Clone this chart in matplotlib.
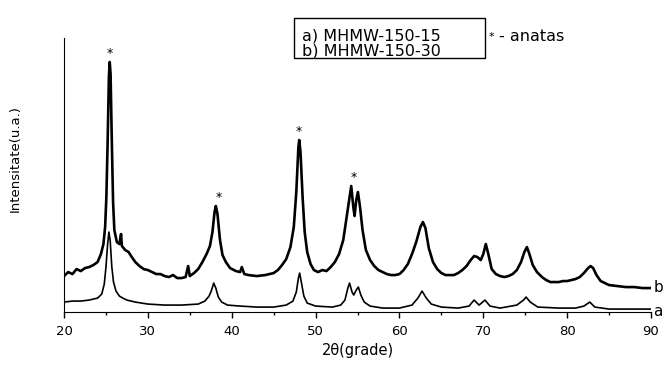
import matplotlib
matplotlib.use("Agg")
import matplotlib.pyplot as plt
from matplotlib.patches import Rectangle

# difractograme: 2theta (grade) si intensitate (u.a.)
two_theta_b = [20.0, 20.5, 21.0, 21.5, 22.0, 22.5, 23.0, 23.5, 24.0, 24.4, 24.7, 24.9,
               25.05, 25.2, 25.35, 25.45, 25.55, 25.7, 25.85, 26.0, 26.3, 26.6, 26.8, 26.9,
               27.3, 27.7, 28.0, 28.5, 29.0, 29.5, 30.0, 30.5, 31.0, 31.5, 32.0, 32.5,
               33.0, 33.5, 34.0, 34.5, 34.8, 35.0, 35.5, 36.0, 36.5, 37.0, 37.4, 37.7,
               37.95, 38.1, 38.3, 38.6, 38.9, 39.3, 39.8, 40.5, 41.0, 41.2, 41.5, 42.0,
               43.0, 44.0, 45.0, 45.5, 46.0, 46.5, 47.0, 47.4, 47.7, 47.95, 48.05, 48.2,
               48.45, 48.7, 49.0, 49.4, 49.8, 50.3, 50.8, 51.3, 51.8, 52.3, 52.8, 53.3,
               53.7, 54.0, 54.25, 54.5, 54.65, 54.85, 55.05, 55.3, 55.6, 56.0, 56.5, 57.0,
               57.5, 58.0, 58.5, 59.0, 59.5, 60.0, 60.5, 61.0, 61.5, 62.0, 62.5, 62.8,
               63.1, 63.5, 64.0, 64.5, 65.0, 65.5, 66.0, 66.5, 67.0, 67.5, 68.0, 68.5,
               68.9, 69.3, 69.7, 70.0, 70.3, 70.6, 71.0, 71.5, 72.0, 72.5, 73.0, 73.5,
               74.0, 74.5, 74.9, 75.2, 75.5, 75.9, 76.4, 77.0, 77.5, 78.0, 78.5, 79.0,
               79.5, 80.0, 80.5, 81.0, 81.5, 82.0, 82.5, 82.8, 83.1, 83.5, 84.0, 84.5,
               85.0, 86.0, 87.0, 88.0, 89.0, 90.0]
intens_b = [36, 40, 38, 43, 41, 44, 45, 47, 50, 58, 68, 85,
            115, 170, 235, 250, 238, 170, 110, 82, 70, 68, 78, 66,
            62, 60, 56, 50, 46, 43, 42, 40, 38, 38, 36, 35,
            37, 34, 34, 35, 46, 36, 39, 43, 50, 58, 66, 80,
            100, 106, 98, 72, 57, 50, 44, 41, 40, 45, 38, 37,
            36, 37, 39, 42, 47, 53, 65, 85, 120, 165, 172, 160,
            115, 80, 60, 48, 42, 40, 42, 41, 45, 50, 58, 72,
            95, 112, 126, 105, 96, 112, 120, 105, 82, 62, 52, 46,
            42, 40, 38, 37, 37, 38, 42, 48, 58, 70, 85, 90,
            84, 64, 50, 43, 39, 37, 37, 37, 39, 42, 46, 52,
            56, 55, 52, 58, 68, 58, 43, 38, 36, 35, 36, 38,
            42, 50, 60, 65, 58, 47, 40, 35, 32, 30, 30, 30,
            31, 31, 32, 33, 35, 39, 44, 46, 44, 37, 31, 29,
            27, 26, 25, 25, 24, 24]

two_theta_a = [20.0, 21.0, 22.0, 23.0, 24.0, 24.5, 24.8, 25.0, 25.2, 25.35, 25.5, 25.7,
               25.9, 26.2, 26.6, 27.0, 27.5, 28.5, 30.0, 32.0, 34.0, 36.0, 36.8, 37.3,
               37.6, 37.85, 38.1, 38.4, 38.8, 39.5, 41.0, 43.0, 45.0, 46.5, 47.3, 47.7,
               47.95, 48.1, 48.3, 48.6, 49.0, 50.0, 52.0, 53.0, 53.5, 53.85, 54.05, 54.35,
               54.55, 54.85, 55.1, 55.4, 55.8, 56.5, 58.0, 60.0, 61.5, 62.2, 62.7, 63.2,
               63.8, 65.0, 67.0, 68.3, 68.9, 69.5, 70.2, 70.8, 72.0, 74.0, 74.8, 75.1,
               75.6, 76.5, 79.0, 81.0, 82.0, 82.7, 83.3, 85.0, 88.0, 90.0]
intens_a = [10, 11, 11, 12, 14, 18, 28, 45, 68, 80, 72, 45,
            30, 21, 16, 14, 12, 10, 8, 7, 7, 8, 11, 16,
            22, 29, 24, 15, 10, 7, 6, 5, 5, 7, 11, 20,
            34, 39, 30, 16, 9, 6, 5, 7, 12, 24, 29, 20,
            17, 22, 25, 17, 10, 6, 4, 4, 7, 14, 21, 14,
            8, 5, 4, 6, 12, 7, 12, 6, 4, 7, 12, 15,
            10, 5, 4, 4, 6, 10, 5, 3, 3, 3]

# pozitiile varfurilor de anatas marcate cu *
anatas_x = [25.5, 38.5, 48.05, 54.55]
anatas_y = [250, 106, 172, 126]

legend_lines = ["a) MHMW-150-15", "b) MHMW-150-30"]


def generate_xrd_chart(name):
    fig = plt.figure(figsize=(6.67, 3.65), dpi=100)
    ax = fig.add_axes([0.096, 0.145, 0.88, 0.751])

    ax.plot(two_theta_b, intens_b, color="black", lw=1.9)
    ax.plot(two_theta_a, intens_a, color="black", lw=1.2)

    for x, y in zip(anatas_x, anatas_y):
        ax.text(x, y + 2, "*", ha="center", va="bottom", fontsize=9)

    ax.text(90.3, intens_b[-1] + 1, "b", ha="left", va="center", fontsize=11, clip_on=False)
    ax.text(90.3, intens_a[-1] - 2, "a", ha="left", va="center", fontsize=11, clip_on=False)

    ax.set_xlim(20, 90)
    ax.set_ylim(0, 274)
    ax.set_xticks(range(20, 91, 10))
    ax.set_xticks(range(25, 90, 10), minor=True)
    ax.tick_params(axis="x", which="major", direction="out", length=4, width=1, labelsize=9.5, pad=5)
    ax.tick_params(axis="x", which="minor", direction="out", length=2.5, width=1)
    ax.set_yticks([])
    ax.spines["top"].set_visible(False)
    ax.spines["right"].set_visible(False)

    ax.set_xlabel("2θ(grade)", fontsize=10.5, labelpad=4)
    ax.set_ylabel("Intensitate(u.a.)", fontsize=9.5)
    ax.yaxis.set_label_coords(-0.072, 0.56)

    # caseta cu numele probelor
    fig.add_artist(Rectangle((0.4408, 0.841), 0.2864, 0.1096, transform=fig.transFigure,
                             fill=False, edgecolor="black", lw=1))
    fig.text(0.4528, 0.901, legend_lines[0], ha="left", va="center", fontsize=11.5)
    fig.text(0.4528, 0.859, legend_lines[1], ha="left", va="center", fontsize=11.5)
    fig.text(0.733, 0.899, "*", ha="left", va="center", fontsize=8)
    fig.text(0.748, 0.899, "- anatas", ha="left", va="center", fontsize=11.5)

    fig.savefig(name, dpi=100)
    plt.close(fig)


if __name__ == "__main__":
    generate_xrd_chart("out.png")
